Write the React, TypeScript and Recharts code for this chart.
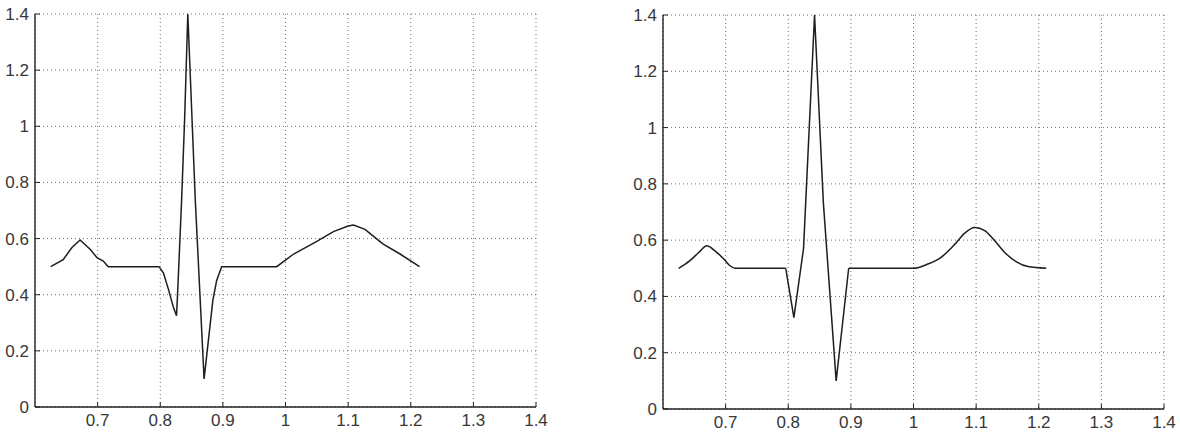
import { LineChart, Line, XAxis, YAxis, CartesianGrid } from 'recharts';

// waveform 1 (left panel)
const leftTime = [
  0.625, 0.645, 0.659, 0.672, 0.688, 0.699, 0.709, 0.717, 0.798, 0.805, 0.813, 0.821, 0.826,
  0.828, 0.834, 0.839, 0.844, 0.856, 0.87, 0.884, 0.89, 0.898, 0.986, 1.013, 1.05, 1.0765,
  1.1, 1.1085, 1.127, 1.146, 1.156, 1.183, 1.214,
];
const leftAmp = [
  0.5, 0.525, 0.568, 0.595, 0.562, 0.532, 0.52, 0.5, 0.5, 0.478, 0.42, 0.355, 0.325,
  0.42, 0.73, 1.03, 1.4, 0.735, 0.1, 0.38, 0.45, 0.5, 0.5, 0.545, 0.59, 0.625,
  0.645, 0.648, 0.633, 0.598, 0.58, 0.545, 0.5,
];

// waveform 2 (right panel): smooth P / T waves, sharp QRS
const rightTime = [
  0.625, 0.643, 0.657, 0.67, 0.683, 0.697, 0.707, 0.715, 0.796, 0.809, 0.8244, 0.842, 0.856,
  0.8765, 0.8965, 1.0, 1.023, 1.0446, 1.0658, 1.0818, 1.0978, 1.1137, 1.1297, 1.1457, 1.1644,
  1.1828, 1.212,
];
const rightAmp = [
  0.5, 0.527, 0.556, 0.58, 0.562, 0.533, 0.509, 0.5, 0.5, 0.325, 0.57, 1.4, 0.735,
  0.1, 0.5, 0.5, 0.515, 0.54, 0.585, 0.625, 0.645, 0.634, 0.598, 0.556, 0.523,
  0.506, 0.5,
];
// QRS section of the right waveform runs between these times
const rightQrsStart = 0.796;
const rightQrsEnd = 0.8965;

const xTicks = [0.7, 0.8, 0.9, 1.0, 1.1, 1.2, 1.3, 1.4];
const yTicks = [0, 0.2, 0.4, 0.6, 0.8, 1.0, 1.2, 1.4];

const FONT = '"Liberation Sans", Arial, sans-serif';
const INK = '#222';
const fmt = (v: number) => String(Number(v.toFixed(1)));

const BottomTick = ({ x, y, payload }: any) => (
  <g>
    <line x1={x} x2={x} y1={y} y2={y - 5} stroke={INK} />
    <text x={x} y={y + 19} textAnchor="middle" fontSize={17} fontFamily={FONT} fill="#383838">
      {fmt(payload.value)}
    </text>
  </g>
);

const LeftTick = ({ x, y, payload }: any) => (
  <g>
    <line x1={x} x2={x + 5} y1={y} y2={y} stroke={INK} />
    <text x={x - 6} y={y + 6} textAnchor="end" fontSize={17} fontFamily={FONT} fill="#383838">
      {fmt(payload.value)}
    </text>
  </g>
);

const TopTick = ({ x, y }: any) => <line x1={x} x2={x} y1={y} y2={y + 5} stroke={INK} />;
const RightTick = ({ x, y }: any) => <line x1={x} x2={x - 5} y1={y} y2={y} stroke={INK} />;

type PanelProps = {
  data: { t: number; v?: number; w?: number }[];
  width: number;
  yAxisWidth: number;
  margin: { top: number; right: number; bottom: number; left: number };
};

const Panel = ({ data, width, yAxisWidth, margin }: PanelProps) => (
  <LineChart width={width} height={433} data={data} margin={margin}>
    <CartesianGrid stroke="#6f6f6f" strokeDasharray="1 3" />
    <XAxis
      dataKey="t"
      type="number"
      domain={[0.6, 1.4]}
      ticks={xTicks}
      allowDataOverflow
      tickSize={0}
      tickMargin={0}
      height={26}
      axisLine={{ stroke: INK, strokeWidth: 1.4 }}
      tick={<BottomTick />}
    />
    <XAxis
      xAxisId="top"
      orientation="top"
      type="number"
      domain={[0.6, 1.4]}
      ticks={xTicks}
      allowDataOverflow
      tickSize={0}
      tickMargin={0}
      height={0}
      axisLine={{ stroke: INK, strokeWidth: 1.6 }}
      tick={<TopTick />}
    />
    <YAxis
      type="number"
      domain={[0, 1.4]}
      ticks={yTicks}
      allowDataOverflow
      width={yAxisWidth}
      tickSize={0}
      tickMargin={0}
      axisLine={{ stroke: INK, strokeWidth: 1.4 }}
      tick={<LeftTick />}
    />
    <YAxis
      yAxisId="right"
      orientation="right"
      type="number"
      domain={[0, 1.4]}
      ticks={yTicks}
      allowDataOverflow
      width={0}
      tickSize={0}
      tickMargin={0}
      axisLine={{ stroke: INK, strokeWidth: 1.4 }}
      tick={<RightTick />}
    />
    <Line
      type="linear"
      dataKey="v"
      stroke="#1e1e1e"
      strokeWidth={1.5}
      dot={false}
      isAnimationActive={false}
    />
    <Line
      type="monotone"
      dataKey="w"
      stroke="#1e1e1e"
      strokeWidth={1.5}
      dot={false}
      isAnimationActive={false}
    />
  </LineChart>
);

const leftData = leftTime.map((t, i) => ({ t, v: leftAmp[i] }));

// sharp part drawn straight, waves drawn smooth
const rightData = rightTime.map((t, i) => ({
  t,
  v: t >= rightQrsStart && t <= rightQrsEnd ? rightAmp[i] : undefined,
  w: t <= rightQrsStart || t >= rightQrsEnd ? rightAmp[i] : undefined,
}));

export default function App() {
  return (
    <div style={{ position: 'absolute', left: 0, top: 0, width: 1180, height: 433, display: 'flex', background: '#fff' }}>
      <Panel
        data={leftData}
        width={600}
        yAxisWidth={35}
        margin={{ top: 14, right: 64, bottom: 0, left: 0 }}
      />
      <Panel
        data={rightData}
        width={580}
        yAxisWidth={63}
        margin={{ top: 15, right: 16, bottom: -2, left: 0 }}
      />
    </div>
  );
}
